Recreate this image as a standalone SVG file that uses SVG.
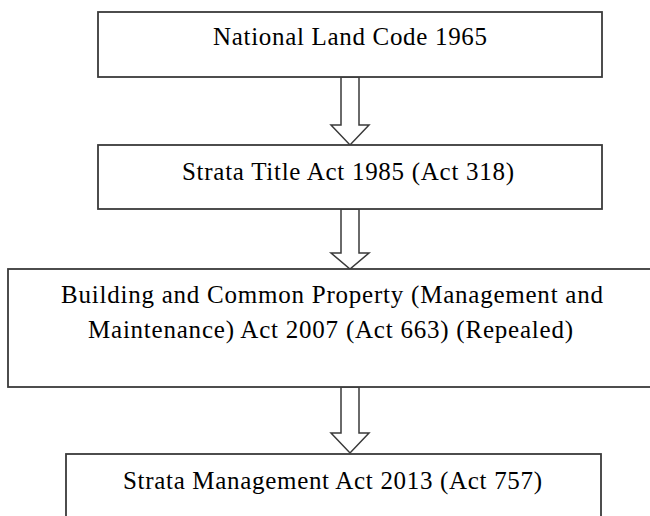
<svg xmlns="http://www.w3.org/2000/svg" width="650" height="516" viewBox="0 0 650 516">
<style>
.box{fill:#fff;stroke:#3a3a3a;stroke-width:1.8}
.arr{fill:#fff;stroke:#3a3a3a;stroke-width:1.5;stroke-linejoin:miter}
text{font-family:"Liberation Serif","Times New Roman",serif;font-size:25px;fill:#000;text-anchor:start}
</style>
<rect width="650" height="516" fill="#fff"/>
<g id="connectors">
<path class="arr" d="M341,77 H359 V125 H369 L350,145 L331,125 H341 Z"/>
<path class="arr" d="M341,209 H359 V253 H369 L350,269 L331,253 H341 Z"/>
<path class="arr" d="M341,387 H359 V433 H369 L350,453 L331,433 H341 Z"/>
</g>
<g id="node1">
<rect class="box" x="98" y="12" width="504" height="65"/>
<text x="213" y="45" textLength="274" lengthAdjust="spacing">National Land Code 1965</text>
</g>
<g id="node2">
<rect class="box" x="98" y="145" width="504" height="64"/>
<text x="182" y="180" textLength="332" lengthAdjust="spacing">Strata Title Act 1985 (Act 318)</text>
</g>
<g id="node3">
<rect class="box" x="8" y="269" width="660" height="118"/>
<text x="61" y="303" textLength="542" lengthAdjust="spacing">Building and Common Property (Management and</text>
<text x="88" y="338" textLength="485" lengthAdjust="spacing">Maintenance) Act 2007 (Act 663) (Repealed)</text>
</g>
<g id="node4">
<rect class="box" x="66" y="454" width="535" height="80"/>
<text x="123" y="489" textLength="419" lengthAdjust="spacing">Strata Management Act 2013 (Act 757)</text>
</g>
</svg>
